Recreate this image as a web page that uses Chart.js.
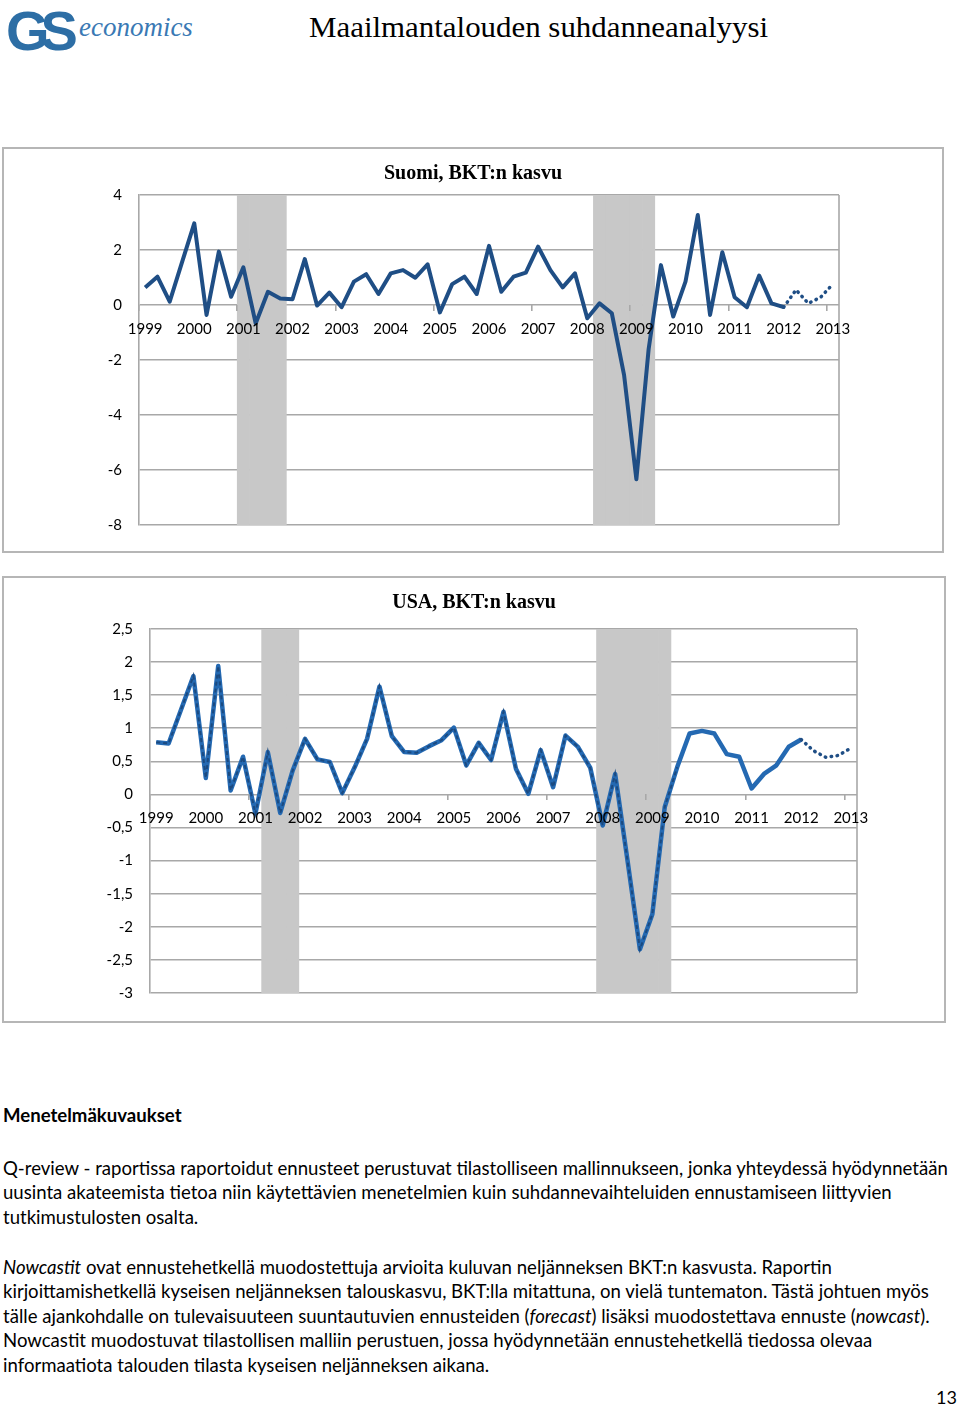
<!DOCTYPE html>
<html lang="fi">
<head>
<meta charset="utf-8">
<title>Maailmantalouden suhdanneanalyysi</title>
<script src="https://cdn.jsdelivr.net/npm/chart.js@4.4.1/dist/chart.umd.min.js"></script>
<style>
    body { margin: 0; background: #fff; font-family: Lato, "Open Sans", sans-serif; color: #000; }
    .page { position: relative; width: 960px; height: 1406px; overflow: hidden; }
    .logo { position: absolute; left: 6px; top: -2px; white-space: nowrap; }
    .logo .gs { font-family: "Liberation Sans", sans-serif; font-weight: bold; font-size: 56px; color: #2d6ea5; letter-spacing: -9px; }
    .logo .eco { font-family: "Liberation Serif", serif; font-style: italic; font-size: 27px; color: #3a79b4; position: relative; top: -14px; margin-left: 10px; }
    .header { position: absolute; left: 309px; top: 10px; font-family: "Liberation Serif", serif; font-size: 30px; white-space: nowrap; transform-origin: left top; }
    .frame { position: absolute; border: 2px solid #b6b6b6; box-sizing: border-box; }
    .frame canvas { display: block; }
    .text { position: absolute; left: 3px; font-size: 17px; line-height: 24.4px; white-space: nowrap; }
    .pnum { position: absolute; right: 3px; top: 1386px; font-size: 18px; }
</style>
</head>
<body>
<div class="page">
    <div class="logo"><span class="gs">GS</span><span class="eco">economics</span></div>
    <div class="header" id="header">Maailmantalouden suhdanneanalyysi</div>

    <div class="frame" style="left:2px; top:147px; width:942px; height:406px;">
        <canvas id="finChart" width="938" height="402"></canvas>
    </div>
    <div class="frame" style="left:2px; top:576px; width:944px; height:447px;">
        <canvas id="usaChart" width="940" height="443"></canvas>
    </div>

    <div class="text" style="top:1103px; font-weight:bold;">Menetelmäkuvaukset</div>
    <div class="text body" style="top:1156px;">
        <span class="fit">Q-review - raportissa raportoidut ennusteet perustuvat tilastolliseen mallinnukseen, jonka yhteydessä hyödynnetään</span><br>
        uusinta akateemista tietoa niin käytettävien menetelmien kuin suhdannevaihteluiden ennustamiseen liittyvien<br>
        tutkimustulosten osalta.
    </div>
    <div class="text body" style="top:1255px;">
        <i>Nowcastit</i> ovat ennustehetkellä muodostettuja arvioita kuluvan neljänneksen BKT:n kasvusta. Raportin<br>
        kirjoittamishetkellä kyseisen neljänneksen talouskasvu, BKT:lla mitattuna, on vielä tuntematon. Tästä johtuen myös<br>
        tälle ajankohdalle on tulevaisuuteen suuntautuvien ennusteiden (<i>forecast</i>) lisäksi muodostettava ennuste (<i>nowcast</i>).<br>
        Nowcastit muodostuvat tilastollisen malliin perustuen, jossa hyödynnetään ennustehetkellä tiedossa olevaa<br>
        informaatiota talouden tilasta kyseisen neljänneksen aikana.
    </div>
    <div class="pnum">13</div>
</div>

<script>
// quarterly categories 1999Q1 .. 2013Q1
const years = [1999, 2000, 2001, 2002, 2003, 2004, 2005, 2006, 2007, 2008, 2009, 2010, 2011, 2012, 2013];
const quarters = [];
years.forEach(y => ['Q1', 'Q2', 'Q3', 'Q4'].forEach(q => quarters.push(y + q)));
quarters.length = 57;

// Suomi, q/q growth (%), 1999Q1 .. 2012Q1
const finGrowth = [
    0.64, 1.03, 0.12, 1.55,
    2.97, -0.36, 1.94, 0.30,
    1.37, -0.67, 0.48, 0.24,
    0.21, 1.67, -0.02, 0.45,
    -0.08, 0.85, 1.12, 0.40,
    1.15, 1.27, 0.99, 1.48,
    -0.27, 0.76, 1.03, 0.40,
    2.15, 0.48, 1.03, 1.18,
    2.12, 1.27, 0.64, 1.15,
    -0.48, 0.06, -0.30, -2.55,
    -6.34, -1.60, 1.45, -0.42,
    0.85, 3.27, -0.36, 1.92,
    0.28, -0.08, 1.07, 0.06,
    -0.08
];
// nowcast / forecast, 2012Q1 .. 2013Q1
const finForecast = [-0.08, 0.55, 0.06, 0.28, 0.76];
const finRecessions = [['2001Q1', '2001Q4'], ['2008Q2', '2009Q2']];
const finTicks = { min: -8, max: 4, step: 2 };

// USA, q/q growth (%), 1999Q1 .. 2012Q1
const usaGrowth = [
    0.79, 0.77, 1.28, 1.79,
    0.25, 1.94, 0.06, 0.57,
    -0.29, 0.64, -0.28, 0.36,
    0.84, 0.53, 0.49, 0.02,
    0.41, 0.84, 1.63, 0.88,
    0.64, 0.63, 0.73, 0.82,
    1.01, 0.44, 0.78, 0.52,
    1.25, 0.39, 0.01, 0.67,
    0.11, 0.89, 0.72, 0.40,
    -0.47, 0.31, -1.00, -2.34,
    -1.81, -0.19, 0.41, 0.92,
    0.96, 0.92, 0.61, 0.57,
    0.09, 0.31, 0.44, 0.72,
    0.83
];
const usaForecast = [0.83, 0.66, 0.56, 0.59, 0.70];
const usaRecessions = [['2001Q2', '2001Q4'], ['2008Q1', '2009Q2']];
const usaOldSeriesEnd = '2009Q3';
const usaTicks = { min: -3, max: 2.5, step: 0.5 };

Chart.defaults.font.family = 'Lato, "Open Sans", sans-serif';
Chart.defaults.color = '#000';

const GRID = '#a8a8a8';

function pad(values, start, until) {
    return quarters.map((q, i) => {
        if (until && q > until) return null;
        return (i >= start && i < start + values.length) ? values[i - start] : null;
    });
}

function bands(periods, lo, hi) {
    return quarters.map(q => periods.some(([a, b]) => q >= a && q <= b) ? [lo, hi] : null);
}

// right edge of the plot area
const plotEdge = {
    id: 'plotEdge',
    beforeDatasetsDraw(chart) {
        const { ctx, chartArea } = chart;
        ctx.save();
        ctx.strokeStyle = GRID;
        ctx.lineWidth = 1.6;
        ctx.beginPath();
        ctx.moveTo(chartArea.right, chartArea.top);
        ctx.lineTo(chartArea.right, chartArea.bottom);
        ctx.stroke();
        ctx.restore();
    }
};

function makeOptions(title, t, leftW, rightW, titlePad, bottom) {
    return {
        responsive: false,
        animation: false,
        devicePixelRatio: 1,
        layout: { padding: { left: 0, right: 0, top: 0, bottom: bottom } },
        plugins: {
            legend: { display: false },
            tooltip: { enabled: false },
            title: {
                display: true,
                text: title,
                color: '#000',
                font: { family: '"Liberation Serif", serif', size: 20, weight: 'bold' },
                padding: titlePad
            }
        },
        scales: {
            x: {
                type: 'category',
                offset: true,
                position: { y: 0 },
                grid: {
                    offset: true,
                    z: 1,
                    drawOnChartArea: false,
                    tickLength: 6,
                    lineWidth: 1.6,
                    color: ctx => ctx.index % 8 === 0 ? GRID : 'rgba(0,0,0,0)'
                },
                border: { display: false },
                ticks: {
                    z: 1,
                    autoSkip: false,
                    maxRotation: 0,
                    padding: 9,
                    font: { size: 15 },
                    callback: (v, i) => quarters[i].endsWith('Q1') ? quarters[i].slice(0, 4) : ''
                }
            },
            y: {
                min: t.min,
                max: t.max,
                afterFit: s => { s.width = leftW; },
                grid: { color: GRID, lineWidth: 1.6, drawTicks: false },
                border: { display: true, color: GRID, width: 1.6 },
                ticks: {
                    stepSize: t.step,
                    padding: 17,
                    font: { size: 15 },
                    callback: v => String(v).replace('.', ',')
                }
            },
            // empty right margin so the title centres on the whole frame
            margin: {
                position: 'right',
                grid: { display: false },
                border: { display: false },
                ticks: { display: false },
                afterFit: s => { s.width = rightW; }
            }
        }
    };
}

new Chart(document.getElementById('finChart'), {
    data: {
        labels: quarters,
        datasets: [
            {
                type: 'bar', data: bands(finRecessions, finTicks.min, finTicks.max),
                backgroundColor: '#c8c8c8', barPercentage: 1, categoryPercentage: 1, borderWidth: 0, order: 3
            },
            {
                type: 'line', data: pad(finGrowth, 0), borderColor: '#1f4e85', borderWidth: 4,
                borderJoinStyle: 'round', pointRadius: 0, tension: 0, order: 1
            },
            {
                type: 'line', data: pad(finForecast, finGrowth.length - 1), borderColor: '#1f4e85', borderWidth: 3.5,
                borderDash: [0.5, 5.5], borderCapStyle: 'round', pointRadius: 0, tension: 0, order: 1
            }
        ]
    },
    options: makeOptions('Suomi, BKT:n kasvu', finTicks, 135, 103, { top: 12.5, bottom: 9.5 }, 26),
    plugins: [plotEdge]
});

new Chart(document.getElementById('usaChart'), {
    data: {
        labels: quarters,
        datasets: [
            {
                type: 'bar', data: bands(usaRecessions, usaTicks.min, usaTicks.max),
                backgroundColor: '#c8c8c8', barPercentage: 1, categoryPercentage: 1, borderWidth: 0, order: 3
            },
            {
                type: 'line', data: pad(usaGrowth, 0), borderColor: '#2469b2', borderWidth: 4.5,
                borderJoinStyle: 'round', pointRadius: 0, tension: 0, order: 2
            },
            {
                type: 'line', data: pad(usaGrowth, 0, usaOldSeriesEnd), borderColor: '#1b4a80', borderWidth: 2,
                borderDash: [4, 3], pointRadius: 0, tension: 0, order: 1
            },
            {
                type: 'line', data: pad(usaForecast, usaGrowth.length - 1), borderColor: '#1f4e85', borderWidth: 3.5,
                borderDash: [0.5, 5.5], borderCapStyle: 'round', pointRadius: 0, tension: 0, order: 1
            }
        ]
    },
    options: makeOptions('USA, BKT:n kasvu', usaTicks, 146, 87, { top: 12.5, bottom: 14.5 }, 28),
    plugins: [plotEdge]
});

// scale the running text so its widest line spans the page like the original
const fit = document.querySelector('.fit');
const size = 17 * 945 / fit.getBoundingClientRect().width;
document.querySelectorAll('.text').forEach(el => { el.style.fontSize = size + 'px'; });
const header = document.getElementById('header');
header.style.transform = 'scaleX(' + (459 / header.getBoundingClientRect().width) + ')';
</script>
</body>
</html>
